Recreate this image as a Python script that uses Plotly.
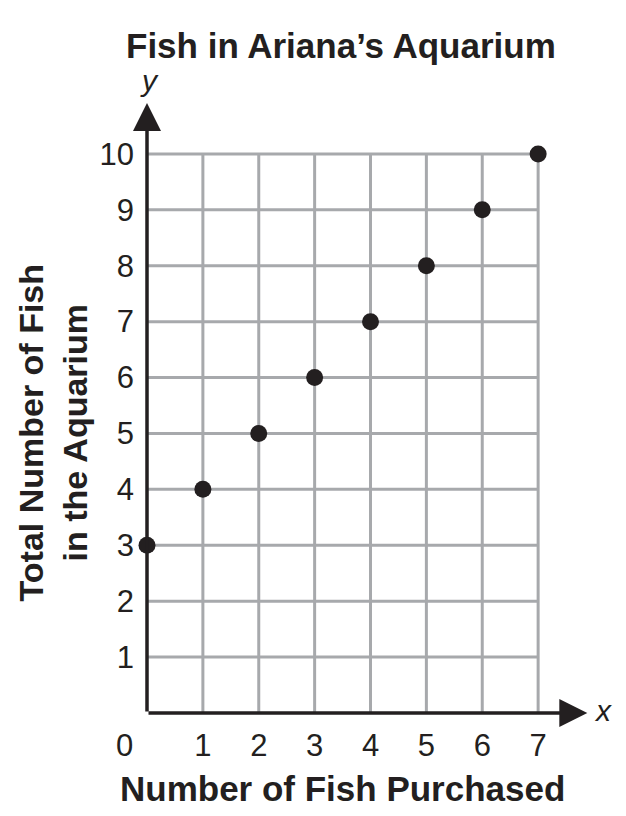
import plotly.graph_objects as go

# Data
fish_purchased = [0, 1, 2, 3, 4, 5, 6, 7]
total_fish = [3, 4, 5, 6, 7, 8, 9, 10]
x_ticks = [1, 2, 3, 4, 5, 6, 7]
y_ticks = [1, 2, 3, 4, 5, 6, 7, 8, 9, 10]
x_tick_labels = [str(v) for v in x_ticks]
y_tick_labels = [str(v) for v in y_ticks]

title_text = "Fish in Ariana’s Aquarium"
x_title = "Number of Fish Purchased"
y_title = "Total Number of Fish<br>in the Aquarium"

INK = "#231F20"
GRID = "#A7A9AC"
FONT = "Liberation Sans, Arial, Helvetica, sans-serif"

x_max = max(x_ticks)
y_max = max(y_ticks)

# grid lines built from the tick lists
gx, gy = [], []
for v in x_ticks:
    gx += [v, v, None]
    gy += [0, y_max, None]
for v in y_ticks:
    gx += [0, x_max, None]
    gy += [v, v, None]

fig = go.Figure()
fig.add_trace(go.Scatter(x=gx, y=gy, mode="lines",
                         line=dict(color=GRID, width=3),
                         hoverinfo="skip", showlegend=False))
fig.add_trace(go.Scatter(x=fish_purchased, y=total_fish, mode="markers",
                         marker=dict(color=INK, size=17),
                         cliponaxis=False, showlegend=False))

ann = []
# axis arrows
ann.append(dict(x=7.88, y=0, ax=0, ay=0, xref="x", yref="y", axref="x", ayref="y",
                showarrow=True, arrowhead=2, arrowsize=1.6, arrowwidth=3.5,
                arrowcolor=INK, text="", standoff=0, startstandoff=0))
ann.append(dict(x=0, y=10.91, ax=0, ay=0, xref="x", yref="y", axref="x", ayref="y",
                showarrow=True, arrowhead=2, arrowsize=1.6, arrowwidth=3.5,
                arrowcolor=INK, text="", standoff=0, startstandoff=0))
# axis letters
ann.append(dict(x=0.05, y=1, xref="x", yref="paper", text="<i>y</i>", showarrow=False,
                font=dict(family=FONT, size=30, color=INK), yshift=18,
                xanchor="center", yanchor="middle"))
ann.append(dict(x=1, y=0.04, xref="paper", yref="y", text="<i>x</i>", showarrow=False,
                font=dict(family=FONT, size=30, color=INK), xshift=9,
                xanchor="center", yanchor="middle"))
# origin label
ann.append(dict(x=0, y=0, xref="x", yref="paper", text="0", showarrow=False,
                font=dict(family=FONT, size=31, color=INK), xshift=-23, yshift=-32,
                xanchor="center", yanchor="middle"))
# titles
ann.append(dict(x=3.48, y=1, xref="x", yref="paper", text="<b>" + title_text + "</b>",
                showarrow=False, font=dict(family=FONT, size=35, color=INK),
                yshift=53, xanchor="center", yanchor="middle"))
ann.append(dict(x=3.5, y=0, xref="x", yref="paper", text="<b>" + x_title + "</b>",
                showarrow=False, font=dict(family=FONT, size=35, color=INK),
                yshift=-75, xanchor="center", yanchor="middle"))
ann.append(dict(x=0, y=5, xref="paper", yref="y", text="<b>" + y_title + "</b>",
                showarrow=False, font=dict(family=FONT, size=34, color=INK),
                textangle=-90, xshift=-94, xanchor="center", yanchor="middle"))

# the page body adds an 8px margin, so the figure is sized/offset to match
fig.update_layout(
    width=618, height=808,
    margin=dict(l=139, r=32, t=90, b=103, pad=0),
    paper_bgcolor="white", plot_bgcolor="white",
    showlegend=False,
    annotations=ann,
    xaxis=dict(range=[0, 8], showgrid=False, zeroline=False, showline=False,
               tickmode="array", tickvals=x_ticks, ticktext=x_tick_labels,
               ticks="", ticklabelstandoff=11,
               tickfont=dict(family=FONT, size=31, color=INK), fixedrange=True),
    yaxis=dict(range=[0, 11], showgrid=False, zeroline=False, showline=False,
               tickmode="array", tickvals=y_ticks, ticktext=y_tick_labels,
               ticks="", ticklabelstandoff=12,
               tickfont=dict(family=FONT, size=31, color=INK), fixedrange=True),
)

fig.write_html("out.html")
